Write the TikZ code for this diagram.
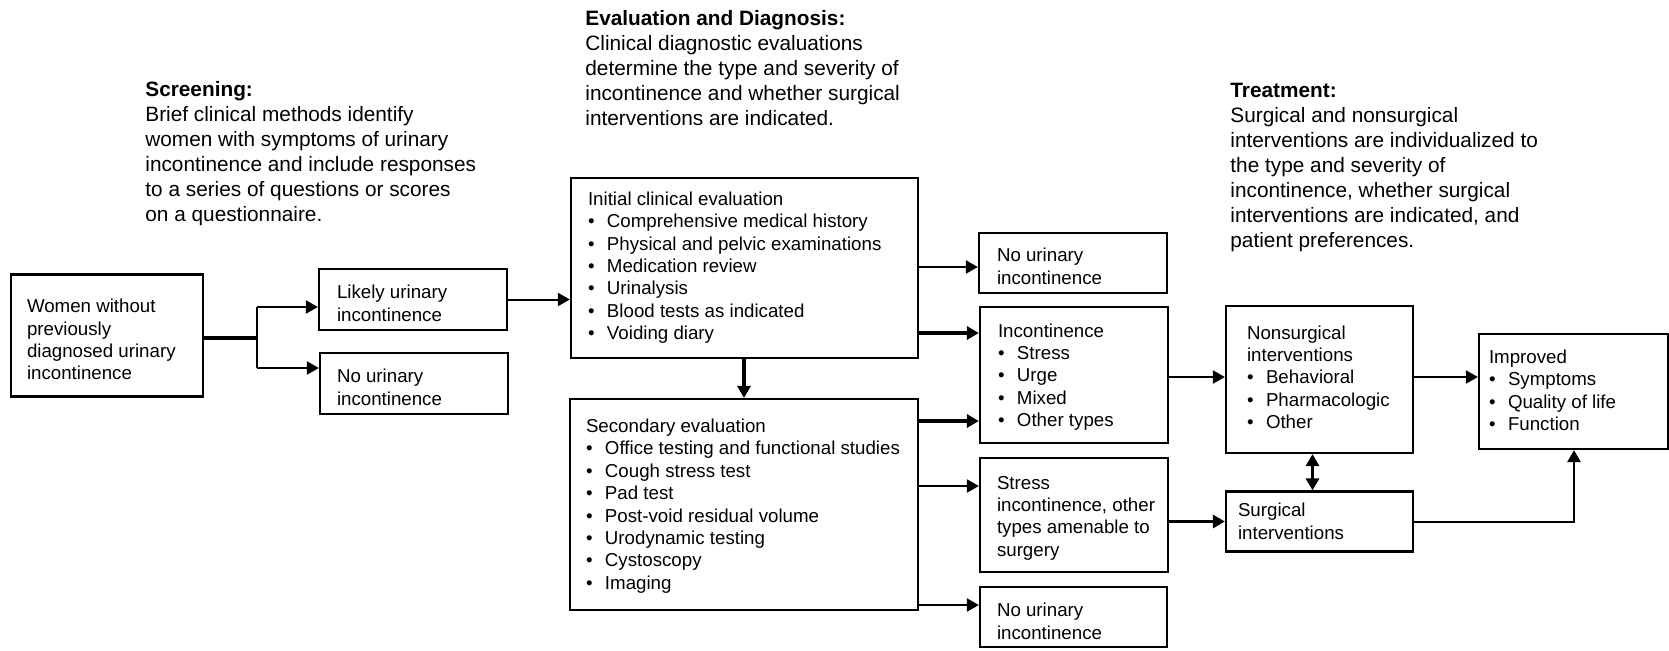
\documentclass[tikz,border=0pt]{standalone}
\usepackage{fontspec}
\setmainfont{Liberation Sans}
\usetikzlibrary{arrows.meta,calc}
\newcommand{\bl}{\makebox[9.5pt][l]{\textbullet}}
\newcommand{\boxlines}[3][0pt]{\raisebox{-#1}[\height][\depth]{\makebox[#2][l]{\begin{tabular}{@{}l@{}}#3\end{tabular}}}}
\tikzset{
  flowbox/.style={draw, line width=1.1pt, inner ysep=0pt, anchor=center,
    font=\fontsize{9.35}{11.2}\selectfont},
  hdr/.style={anchor=north west, inner sep=0pt, align=left,
    font=\fontsize{10.4}{12.5}\selectfont},
  tip/.tip={Triangle[length=6pt,width=6.5pt]},
  conn/.style={line width=1pt, -tip},
  thk/.style={line width=1.6pt},
}
\begin{document}
\begin{tikzpicture}[x=0.5pt,y=-0.5pt]
\useasboundingbox (0,0) rectangle (1669,650);

% headers
\node[hdr] (hscr) at (145,81.5) {\textbf{Screening:}\\ Brief clinical methods identify\\ women with symptoms of urinary\\ incontinence and include responses\\ to a series of questions or scores\\ on a questionnaire.};
\node[hdr] (heval) at (585,10) {\textbf{Evaluation and Diagnosis:}\\ Clinical diagnostic evaluations\\ determine the type and severity of\\ incontinence and whether surgical\\ interventions are indicated.};
\node[hdr] (htreat) at (1230,82.5) {\textbf{Treatment:}\\ Surgical and nonsurgical\\ interventions are individualized to\\ the type and severity of\\ incontinence, whether surgical\\ interventions are indicated, and\\ patient preferences.};

% boxes
\node[flowbox, minimum width=96pt, minimum height=61pt, inner xsep=8pt] (women) at (107,335.5)
  {\boxlines[3.2pt]{80pt}{Women without\\ previously\\ diagnosed urinary\\ incontinence}};
\node[flowbox, minimum width=94pt, minimum height=30.5pt, inner xsep=9pt] (likely) at (413,299.5)
  {\boxlines[3pt]{76pt}{Likely urinary\\ incontinence}};
\node[flowbox, minimum width=94pt, minimum height=30.5pt, inner xsep=8.5pt] (noui1) at (414,383.5)
  {\boxlines[3pt]{77pt}{No urinary\\ incontinence}};
\node[flowbox, minimum width=173.5pt, minimum height=90pt, inner xsep=8.5pt] (initial) at (744.5,268)
  {\boxlines{156.5pt}{Initial clinical evaluation\\ \bl Comprehensive medical history\\ \bl Physical and pelvic examinations\\ \bl Medication review\\ \bl Urinalysis\\ \bl Blood tests as indicated\\ \bl Voiding diary}};
\node[flowbox, minimum width=174pt, minimum height=105.5pt, inner xsep=8pt] (secondary) at (744,504.5)
  {\boxlines[1pt]{158pt}{Secondary evaluation\\ \bl Office testing and functional studies\\ \bl Cough stress test\\ \bl Pad test\\ \bl Post-void residual volume\\ \bl Urodynamic testing\\ \bl Cystoscopy\\ \bl Imaging}};
\node[flowbox, minimum width=94pt, minimum height=30pt, inner xsep=9pt] (noui2) at (1073,263)
  {\boxlines[2.8pt]{76pt}{No urinary\\ incontinence}};
\node[flowbox, minimum width=94pt, minimum height=68pt, inner xsep=9pt] (incont) at (1074,375)
  {\boxlines[1.2pt]{76pt}{Incontinence\\ \bl Stress\\ \bl Urge\\ \bl Mixed\\ \bl Other types}};
\node[flowbox, minimum width=94pt, minimum height=57pt, inner xsep=8.5pt] (stress) at (1074,515)
  {\boxlines[1.6pt]{77pt}{Stress\\ incontinence, other\\ types amenable to\\ surgery}};
\node[flowbox, minimum width=93.5pt, minimum height=30pt, inner xsep=8.5pt] (noui3) at (1073.5,617)
  {\boxlines[3.2pt]{76.5pt}{No urinary\\ incontinence}};
\node[flowbox, minimum width=93.5pt, minimum height=73.5pt, inner xsep=10.5pt] (nonsurg) at (1319.5,379.5)
  {\boxlines{72.5pt}{Nonsurgical\\ interventions\\ \bl Behavioral\\ \bl Pharmacologic\\ \bl Other}};
\node[flowbox, minimum width=93.5pt, minimum height=30pt, inner xsep=6pt] (surg) at (1319.5,521.5)
  {\boxlines[1pt]{81.5pt}{Surgical\\ interventions}};
\node[flowbox, minimum width=94.3pt, minimum height=57.5pt, inner xsep=5pt] (improved) at (1573.3,391.5)
  {\boxlines[0.5pt]{84.3pt}{Improved\\ \bl Symptoms\\ \bl Quality of life\\ \bl Function}};

% routing coordinates
\coordinate (bm) at (257,338);
\coordinate (b1) at (257,307);
\coordinate (b2) at (257,368);
\coordinate (i1) at (918,267);
\coordinate (i2) at (918,333);
\coordinate (s1) at (918,421);
\coordinate (s2) at (918,486);
\coordinate (s3) at (918,605);
\coordinate (n1) at (1168,377);
\coordinate (dx) at (1312.5,470);
\coordinate (cr) at (1574,522);

% connectors
\draw[line width=2pt] (women.east |- bm) -- (bm);
\draw[line width=1pt] (b1) -- (b2);
\draw[conn] (b1) -- (b1 -| likely.west);
\draw[conn] (b2) -- (b2 -| noui1.west);
\draw[conn] (likely.east) -- (likely.east -| initial.west);
\draw[conn] (initial.east |- i1) -- (noui2.west |- i1);
\draw[conn, thk] (initial.east |- i2) -- (incont.west |- i2);
\draw[conn, thk] (initial.south -| secondary.north) -- (secondary.north);
\draw[conn, thk] (secondary.east |- s1) -- (incont.west |- s1);
\draw[conn] (secondary.east |- s2) -- (stress.west |- s2);
\draw[conn] (secondary.east |- s3) -- (noui3.west |- s3);
\draw[conn] (incont.east |- n1) -- (nonsurg.west |- n1);
\draw[conn] (nonsurg.east |- n1) -- (improved.west |- n1);
\draw[thk, tip-tip] (nonsurg.south -| dx) -- (surg.north -| dx);
\draw[conn, thk] (stress.east |- surg.west) -- (surg.west);
\draw[conn, line width=1.3pt] (surg.east |- cr) -- (cr) -- (improved.south -| cr);
\end{tikzpicture}
\end{document}
